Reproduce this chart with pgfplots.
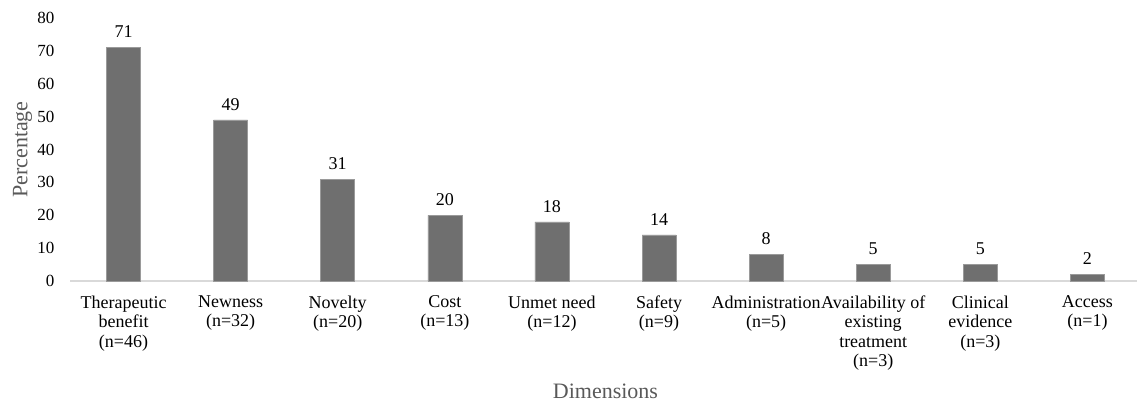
\documentclass[border=0pt]{standalone}
\usepackage{pgfplots}
\pgfplotsset{compat=1.18}
\usepackage{fontspec}
\setmainfont{Liberation Serif}
\definecolor{barc}{HTML}{6F6F6F}
\definecolor{barl}{HTML}{9A9A9A}
\definecolor{axl}{HTML}{D9D9D9}
\definecolor{labc}{HTML}{595959}
\begin{document}
\begin{tikzpicture}
\useasboundingbox (0,0) rectangle (1137bp,405bp);
\begin{axis}[
  at={(70bp,124bp)}, anchor=south west,
  scale only axis,
  width=1071bp, height=263bp,
  ybar, bar width=34bp,
  xmin=-0.5, xmax=9.5, ymin=0, ymax=80,
  xtick=data,
  xticklabels={{Therapeutic\\benefit\\(n=46)},{Newness\\(n=32)},{Novelty\\(n=20)},{Cost\\(n=13)},{Unmet need\\(n=12)},{Safety\\(n=9)},{Administration\\(n=5)},{Availability of\\existing\\treatment\\(n=3)},{Clinical\\evidence\\(n=3)},{Access\\(n=1)}},
  ytick={0,10,...,80},
  major tick length=0pt,
  axis x line=bottom, axis y line=left,
  x axis line style={draw=axl, line width=1.2bp, -},
  y axis line style={draw=none},
  /pgf/number format/assume math mode=true,
  tick label style={text=black},
  xticklabel style={font=\fontsize{18bp}{19.5bp}\selectfont, align=center, anchor=north, yshift=-11bp},
  yticklabel style={font=\fontsize{17bp}{20bp}\selectfont, xshift=-12bp},
  xlabel={Dimensions}, ylabel={Percentage},
  label style={font=\fontsize{22bp}{24bp}\selectfont, text=labc},
  xlabel style={at={(axis description cs:0.5,-0.42)}, anchor=center},
  ylabel style={at={(axis description cs:-0.0444,0.5)}, anchor=center, rotate=0},
  nodes near coords,
  every node near coord/.append style={font=\fontsize{18bp}{20bp}\selectfont, text=black, yshift=6bp},
  clip=false,
]
\addplot[fill=barc, draw=barl, line width=0.6bp] coordinates {(0,71) (1,49) (2,31) (3,20) (4,18) (5,14) (6,8) (7,5) (8,5) (9,2)};
\end{axis}
\end{tikzpicture}
\end{document}
